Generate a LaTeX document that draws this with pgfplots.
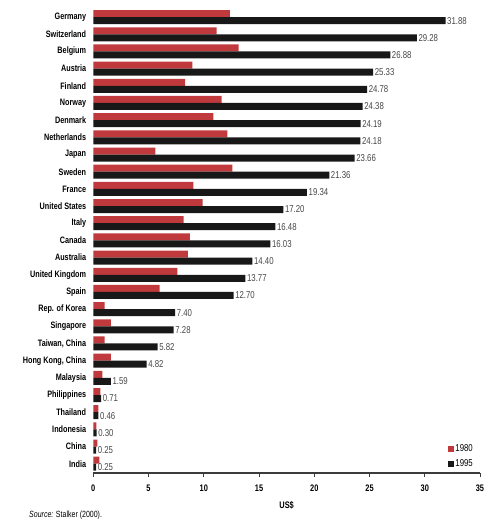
\documentclass[border=0pt]{standalone}
\usepackage{pgfplots}
\pgfplotsset{compat=1.18}
\usepackage{fontspec}
\setmainfont{Liberation Sans}[FakeStretch=0.78]
\definecolor{bar80}{RGB}{192,57,60}
\definecolor{bar95}{RGB}{24,24,24}
\definecolor{axisgray}{RGB}{60,60,60}
\definecolor{valgray}{RGB}{70,70,70}
\begin{document}
\begin{tikzpicture}
\useasboundingbox (0,0) rectangle (486pt,520pt);
\begin{axis}[
    at={(93.3pt,47pt)}, anchor=south west,
    scale only axis,
    width=386.7pt, height=464.5pt,
    xmin=0, xmax=35,
    ymin=-0.54, ymax=26.5,
    axis x line=bottom,
    axis y line=left,
    x axis line style={-, line width=1.4pt, color=axisgray},
    y axis line style={draw=none},
    xtick={0,5,...,35},
    tick align=outside,
    major tick length=4pt,
    xtick style={line width=0.9pt, color=axisgray},
    xticklabel style={font=\bfseries\fontsize{9.5}{10}\selectfont, yshift=-4pt},
    ytick={0,...,26},
    yticklabels={India,China,Indonesia,Thailand,Philippines,Malaysia,
        {Hong Kong, China},{Taiwan, China},Singapore,Rep. of Korea,Spain,
        United Kingdom,Australia,Canada,Italy,United States,France,Sweden,
        Japan,Netherlands,Denmark,Norway,Finland,Austria,Belgium,
        Switzerland,Germany},
    ytick style={draw=none},
    yticklabel style={font=\bfseries\fontsize{9.3}{10}\selectfont, inner sep=0pt, xshift=-3pt},
    /pgf/number format/assume math mode=true,
    xlabel={US\$},
    xlabel style={font=\bfseries\fontsize{9.5}{10}\selectfont, at={(axis description cs:0.5,0)}, anchor=center, yshift=-32pt},
    xbar, bar width=7pt,
    legend style={at={(axis cs:32.08,0.43)}, anchor=west, draw=none, fill=none,
        font=\fontsize{10}{11}\selectfont, row sep=3pt, inner sep=0pt,
        nodes={inner sep=1.5pt}},
    legend cell align=left,
]
\addplot[draw=none, fill=bar80, bar shift=3.5pt,
    legend image code/.code={\fill[bar80] (0pt,-3pt) rectangle (6pt,3pt);}]
    coordinates {
    (0.54,0) (0.36,1) (0.27,2) (0.45,3) (0.63,4) (0.82,5) (1.60,6)
    (1.03,7) (1.60,8) (1.03,9) (6.01,10) (7.60,11) (8.57,12) (8.75,13)
    (8.18,14) (9.90,15) (9.05,16) (12.58,17) (5.61,18) (12.13,19)
    (10.86,20) (11.62,21) (8.30,22) (8.96,23) (13.16,24) (11.17,25)
    (12.37,26)};
\addlegendentry{1980}
\addplot[draw=none, fill=bar95, bar shift=-3.5pt,
    legend image code/.code={\fill[bar95] (0pt,-3pt) rectangle (6pt,3pt);},
    nodes near coords,
    nodes near coords style={anchor=west, inner sep=1.5pt, color=valgray,
        font=\fontsize{10}{11}\selectfont,
        /pgf/number format/.cd, fixed, fixed zerofill, precision=2}]
    coordinates {
    (0.25,0) (0.25,1) (0.30,2) (0.46,3) (0.71,4) (1.59,5) (4.82,6)
    (5.82,7) (7.28,8) (7.40,9) (12.70,10) (13.77,11) (14.40,12) (16.03,13)
    (16.48,14) (17.20,15) (19.34,16) (21.36,17) (23.66,18) (24.18,19)
    (24.19,20) (24.38,21) (24.78,22) (25.33,23) (26.88,24) (29.28,25)
    (31.88,26)};
\addlegendentry{1995}
\end{axis}
\node[anchor=west, inner sep=0pt, font=\fontsize{9}{10}\selectfont] at (29pt,5pt)
    {\textit{Source:} Stalker (2000).};
\end{tikzpicture}
\end{document}
